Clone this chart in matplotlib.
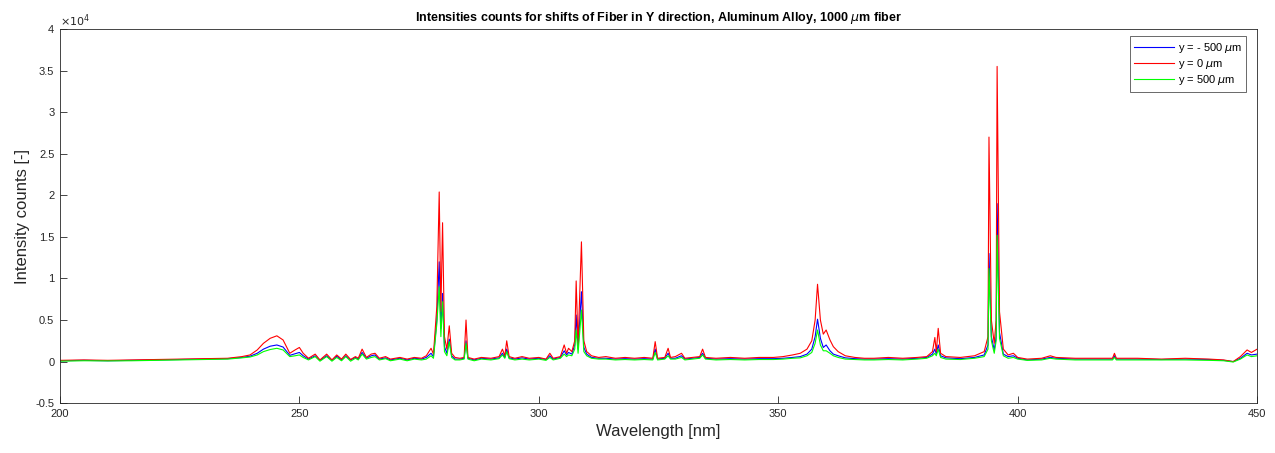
import matplotlib
matplotlib.use("Agg")
import matplotlib.pyplot as plt
from matplotlib.ticker import FuncFormatter

plt.rcParams["font.family"] = ["Liberation Sans", "DejaVu Sans"]
plt.rcParams["mathtext.fontset"] = "dejavusans"

# wavelength grid [nm] and intensity counts
wavelength = [
    200, 205, 210, 215, 220, 225, 230, 235, 238, 239.7, 241.2, 242.5, 243.9, 245.3,
    246.6, 248.0, 249.1, 250.0, 250.8, 251.9, 253.3, 254.3, 255.7, 256.8, 257.8,
    258.8, 259.7, 260.7, 261.7,
    262.3, 263.1, 264, 265, 265.8, 266.7, 268, 269, 271, 272.5, 274, 275.5, 276.5,
    277.5, 278.0, 278.7, 279.2, 279.55, 279.9, 280.3, 280.8, 281.3, 281.8, 282.5,
    283.5, 284.4, 284.8, 285.2, 286.5, 288, 290, 291.7, 292.4, 292.9, 293.3, 293.8,
    295, 296.5, 298, 300, 301.5, 302.3, 303, 304.5, 305.3, 305.8, 306.2, 306.9,
    307.5, 307.8, 308.2, 308.9, 309.4, 310, 311, 312.5, 314, 316, 318, 320, 322,
    323.8, 324.3, 324.8, 326.3, 327.0, 327.5, 328.5, 329.8, 330.5, 332, 333.6,
    334.2, 334.8, 337, 340, 343, 346, 349, 351, 353, 354.6, 356, 357, 357.7, 358.2,
    358.8, 359.4, 360.0, 360.8, 361.5, 362.5, 364, 366, 368, 370, 373, 376, 379,
    381, 382.2, 382.7, 383.0, 383.4, 383.9, 385, 388, 391, 393, 393.8, 394.0, 394.5,
    395.1, 395.5, 395.7, 396.2, 397, 398, 399.1, 400, 402, 405, 406.8, 408, 412,
    416, 419.8, 420.2, 420.6, 425, 430, 435, 440, 443, 445, 446.5, 447.9, 448.8, 450,
]

y_red = [
    150, 200, 150, 200, 250, 300, 350, 400, 600, 800, 1400, 2200, 2800, 3100,
    2600, 1000, 1400, 1700, 1000, 400, 900, 200, 900, 200, 800,
    300, 900, 250, 600,
    400, 1500, 500, 900, 1000, 400, 600, 300, 500, 300, 500, 400, 700,
    1600, 900, 6600, 20400, 6000, 16700, 3000, 1500, 4300, 1000, 500,
    400, 500, 5000, 500, 300, 500, 400, 600, 1500, 700, 2500, 600,
    400, 600, 400, 500, 300, 1000, 400, 600, 2000, 1000, 1600, 1200,
    2500, 9700, 2000, 14400, 2500, 1200, 700, 500, 600, 400, 500, 400, 500,
    400, 2400, 400, 500, 1600, 500, 600, 1000, 400, 500, 600,
    1500, 500, 400, 500, 400, 500, 500, 600, 800, 1000, 1500, 2500, 5000, 9300,
    5000, 3300, 3800, 2600, 1800, 1200, 700, 500, 400, 400, 500, 400, 500,
    600, 1200, 2900, 1200, 4000, 1000, 600, 500, 700, 1200, 3000, 27000, 5000,
    2200, 5000, 35500, 6000, 1500, 800, 1000, 500, 300, 400, 700, 500, 400,
    400, 400, 1000, 400, 400, 300, 400, 300, 200, 0, 600, 1400, 1100, 1500,
]

y_blue = [
    100, 150, 100, 150, 200, 250, 300, 350, 500, 650, 1000, 1500, 1850, 2000,
    1750, 750, 950, 1100, 700, 300, 700, 150, 700, 150, 650,
    200, 700, 200, 500,
    300, 1100, 400, 700, 800, 300, 450, 200, 400, 200, 400, 300, 500,
    1000, 600, 5000, 12000, 4000, 8200, 1800, 1000, 2700, 700, 300,
    300, 400, 2500, 400, 200, 400, 300, 450, 1000, 500, 1500, 450,
    300, 450, 300, 400, 250, 700, 300, 500, 1300, 800, 1100, 900,
    2000, 5600, 1500, 8400, 1700, 900, 500, 400, 400, 300, 350, 300, 350,
    300, 1500, 300, 400, 1000, 400, 400, 700, 300, 400, 500,
    1000, 400, 300, 350, 300, 350, 350, 400, 500, 600, 900, 1500, 3000, 5100,
    2800, 1700, 2000, 1300, 900, 700, 450, 350, 300, 300, 350, 300, 400,
    500, 900, 1500, 900, 2000, 700, 450, 350, 500, 800, 2000, 13000, 3000,
    1400, 3000, 19000, 3500, 900, 600, 700, 400, 200, 300, 500, 400, 300,
    300, 300, 700, 300, 300, 250, 300, 250, 150, 0, 400, 1000, 800, 900,
]

y_green = [
    50, 100, 80, 100, 150, 200, 250, 300, 450, 550, 800, 1200, 1450, 1600,
    1400, 600, 700, 800, 500, 200, 600, 50, 600, 50, 500,
    100, 600, 50, 400,
    200, 900, 300, 500, 600, 200, 350, 100, 300, 100, 300, 200, 300,
    700, 400, 4500, 9000, 3000, 7200, 1200, 700, 2400, 500, 200,
    200, 300, 2200, 300, 100, 300, 200, 350, 800, 400, 1200, 350,
    200, 300, 200, 300, 150, 500, 200, 400, 900, 600, 800, 700,
    1500, 3800, 1000, 6200, 1200, 700, 400, 300, 300, 200, 250, 200, 250,
    200, 1100, 200, 300, 700, 300, 300, 500, 200, 300, 400,
    800, 300, 200, 250, 200, 250, 250, 300, 400, 450, 700, 1100, 2200, 3800,
    2000, 1300, 1300, 1000, 700, 500, 300, 250, 200, 200, 250, 200, 300,
    400, 700, 1000, 700, 1500, 500, 300, 250, 400, 600, 1500, 11200, 2500,
    1000, 2500, 15200, 2800, 700, 400, 500, 300, 150, 200, 400, 300, 200,
    200, 200, 500, 200, 200, 200, 200, 150, 100, -50, 300, 800, 600, 700,
]

series_labels = ["y = - 500 $\\mu$m", "y = 0 $\\mu$m", "y = 500 $\\mu$m"]
y_ticks = [-5000, 0, 5000, 10000, 15000, 20000, 25000, 30000, 35000, 40000]
x_ticks = [200, 250, 300, 350, 400, 450]

ink = (0.15, 0.15, 0.15)

fig = plt.figure(figsize=(12.75, 4.53), dpi=100)
ax = fig.add_axes([0.047, 0.110, 0.939, 0.826])

ax.plot(wavelength, y_blue, color=(0, 0, 1), lw=0.8, label=series_labels[0])
ax.plot(wavelength, y_red, color=(1, 0, 0), lw=0.8, label=series_labels[1])
ax.plot(wavelength, y_green, color=(0, 1, 0), lw=0.8, label=series_labels[2])

ax.set_xlim(200, 450)
ax.set_ylim(-5000, 40000)
ax.set_xticks(x_ticks)
ax.set_yticks(y_ticks)
ax.yaxis.set_major_formatter(FuncFormatter(lambda v, p: "%g" % (v / 1e4)))
ax.tick_params(direction="in", length=5, width=0.6, labelsize=8, colors=ink,
               top=False, right=False, pad=4)
for s in ax.spines.values():
    s.set_color(ink)
    s.set_linewidth(0.6)

ax.text(0.0, 1.0, "$\\times10^4$", transform=ax.transAxes, fontsize=8,
        color=ink, ha="left", va="bottom")

ax.set_xlabel("Wavelength [nm]", fontsize=12, color=ink)
ax.set_ylabel("Intensity counts [-]", fontsize=12, color=ink)
ax.set_title("Intensities counts for shifts of Fiber in Y direction, Aluminum Alloy, 1000 $\\mu$m fiber",
             fontsize=9, fontweight="bold", color="black", pad=6)

leg = ax.legend(loc="upper right", fontsize=8, frameon=True, fancybox=False,
                handlelength=3.6, handletextpad=0.3, borderpad=0.4,
                labelspacing=0.2, borderaxespad=0.0,
                bbox_to_anchor=(0.991, 0.98))
leg.get_frame().set_edgecolor(ink)
leg.get_frame().set_linewidth(0.6)

fig.savefig("out.png", dpi=100)
